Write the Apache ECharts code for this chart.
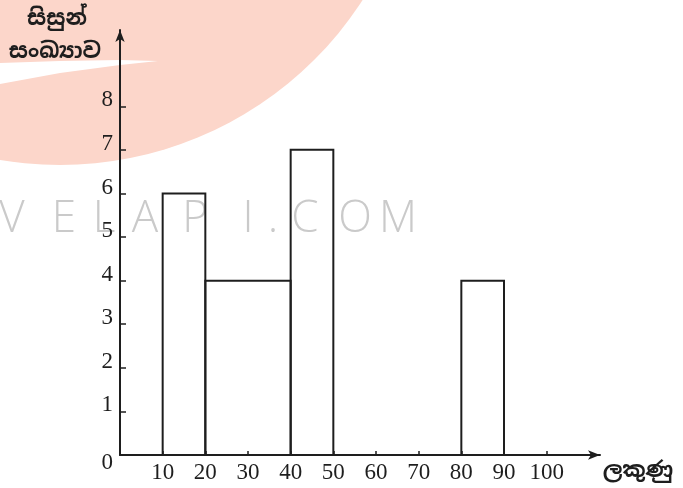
<!DOCTYPE html>
<html><head><meta charset="utf-8">
<script src="https://cdn.jsdelivr.net/npm/echarts@6.0.0/dist/echarts.min.js"></script>
<style>html,body{margin:0;padding:0;background:#fff}#c{width:683px;height:488px}</style>
</head><body><div id="c"></div>
<script>
// ---- data ----
const binStart = [10, 20, 40, 80];
const binEnd   = [20, 40, 50, 90];
const counts   = [6, 4, 7, 4];
const xTickValues = [10, 20, 30, 40, 50, 60, 70, 80, 90, 100];
const yTickValues = [0, 1, 2, 3, 4, 5, 6, 7, 8];
const yTitleLines = ['සිසුන්', 'සංඛ්‍යාව'];
const xTitle = 'ලකුණු';
const watermarkLetters = ['V','E','L','A','P','I','.','C','O','M'];

// ---- styles / layout ----
const ink = '#1e1e1e';
const serif = '"Liberation Serif","DejaVu Serif",serif';
const sinhala = 'bold 22px "Noto Sans Sinhala","Noto Sans",sans-serif';
const wmX = [12, 64, 104, 145, 195, 248, 273, 305, 355, 398];

const chart = echarts.init(document.getElementById('c'), null, {renderer: 'canvas'});

const graphics = [
  // pink logo disc with white swoosh
  {type: 'circle', z: -10, shape: {cx: 60, cy: -195, r: 360}, style: {fill: '#fcd6ca'}, silent: true},
  {type: 'polygon', z: -8, shape: {points: [[0,63],[60,61],[120,60],[158,61],[120,65],[60,73],[0,84]]}, style: {fill: '#ffffff'}, silent: true},
  // y-axis title
  {type: 'text', x: 57, y: 19, z: 5, style: {text: yTitleLines[0], font: sinhala, fill: ink, align: 'center', verticalAlign: 'middle'}},
  {type: 'text', x: 55, y: 52, z: 5, style: {text: yTitleLines[1], font: sinhala, fill: ink, align: 'center', verticalAlign: 'middle'}},
  // x-axis title
  {type: 'text', x: 638, y: 471, z: 5, style: {text: xTitle, font: sinhala, fill: ink, align: 'center', verticalAlign: 'middle'}}
];
watermarkLetters.forEach((ch, i) => {
  graphics.push({type: 'text', z: -5, x: wmX[i], y: 219, silent: true,
    style: {text: ch, align: 'center', verticalAlign: 'middle', font: '300 44px "Open Sans",sans-serif', fill: '#cacaca'}});
});

chart.setOption({
  animation: false,
  backgroundColor: '#fff',
  graphic: graphics,
  grid: {left: 120, right: 83, top: 30, bottom: 33},
  xAxis: {
    type: 'value', min: 0, max: 112.5,
    splitLine: {show: false},
    axisLine: {show: true, onZero: false, symbol: ['none', 'arrow'], symbolSize: [7, 12], lineStyle: {color: ink, width: 2}},
    axisTick: {show: true, inside: true, length: 4, customValues: xTickValues, lineStyle: {color: ink, width: 1.5}},
    axisLabel: {customValues: xTickValues, color: ink, fontFamily: serif, fontSize: 23, margin: 6}
  },
  yAxis: {
    type: 'value', min: 0, max: 9.75,
    splitLine: {show: false},
    axisLine: {show: true, onZero: false, symbol: ['none', 'arrow'], symbolSize: [7, 12], lineStyle: {color: ink, width: 2}},
    axisTick: {show: true, inside: true, length: 6, customValues: yTickValues.filter(v => v > 0), lineStyle: {color: ink, width: 1.5}},
    axisLabel: {
      customValues: yTickValues, color: ink, fontFamily: serif, fontSize: 23, margin: 7,
      padding: [0, 0, 12, 0],
      formatter: v => v === 0 ? '{z|0}' : String(v),
      rich: {z: {fontFamily: serif, fontSize: 23, color: ink, padding: [27, 0, 0, 0]}}
    }
  },
  series: [{
    type: 'custom',
    z: 3,
    data: counts.map((c, i) => [binStart[i], binEnd[i], c]),
    encode: {x: [0, 1], y: 2},
    renderItem: (params, api) => {
      const p0 = api.coord([api.value(0), 0]);
      const p1 = api.coord([api.value(1), api.value(2)]);
      return {
        type: 'rect',
        shape: {x: p0[0], y: p1[1], width: p1[0] - p0[0], height: p0[1] - p1[1]},
        style: {fill: 'rgba(255,255,255,0)', stroke: ink, lineWidth: 2}
      };
    }
  }]
});
</script>
</body></html>
